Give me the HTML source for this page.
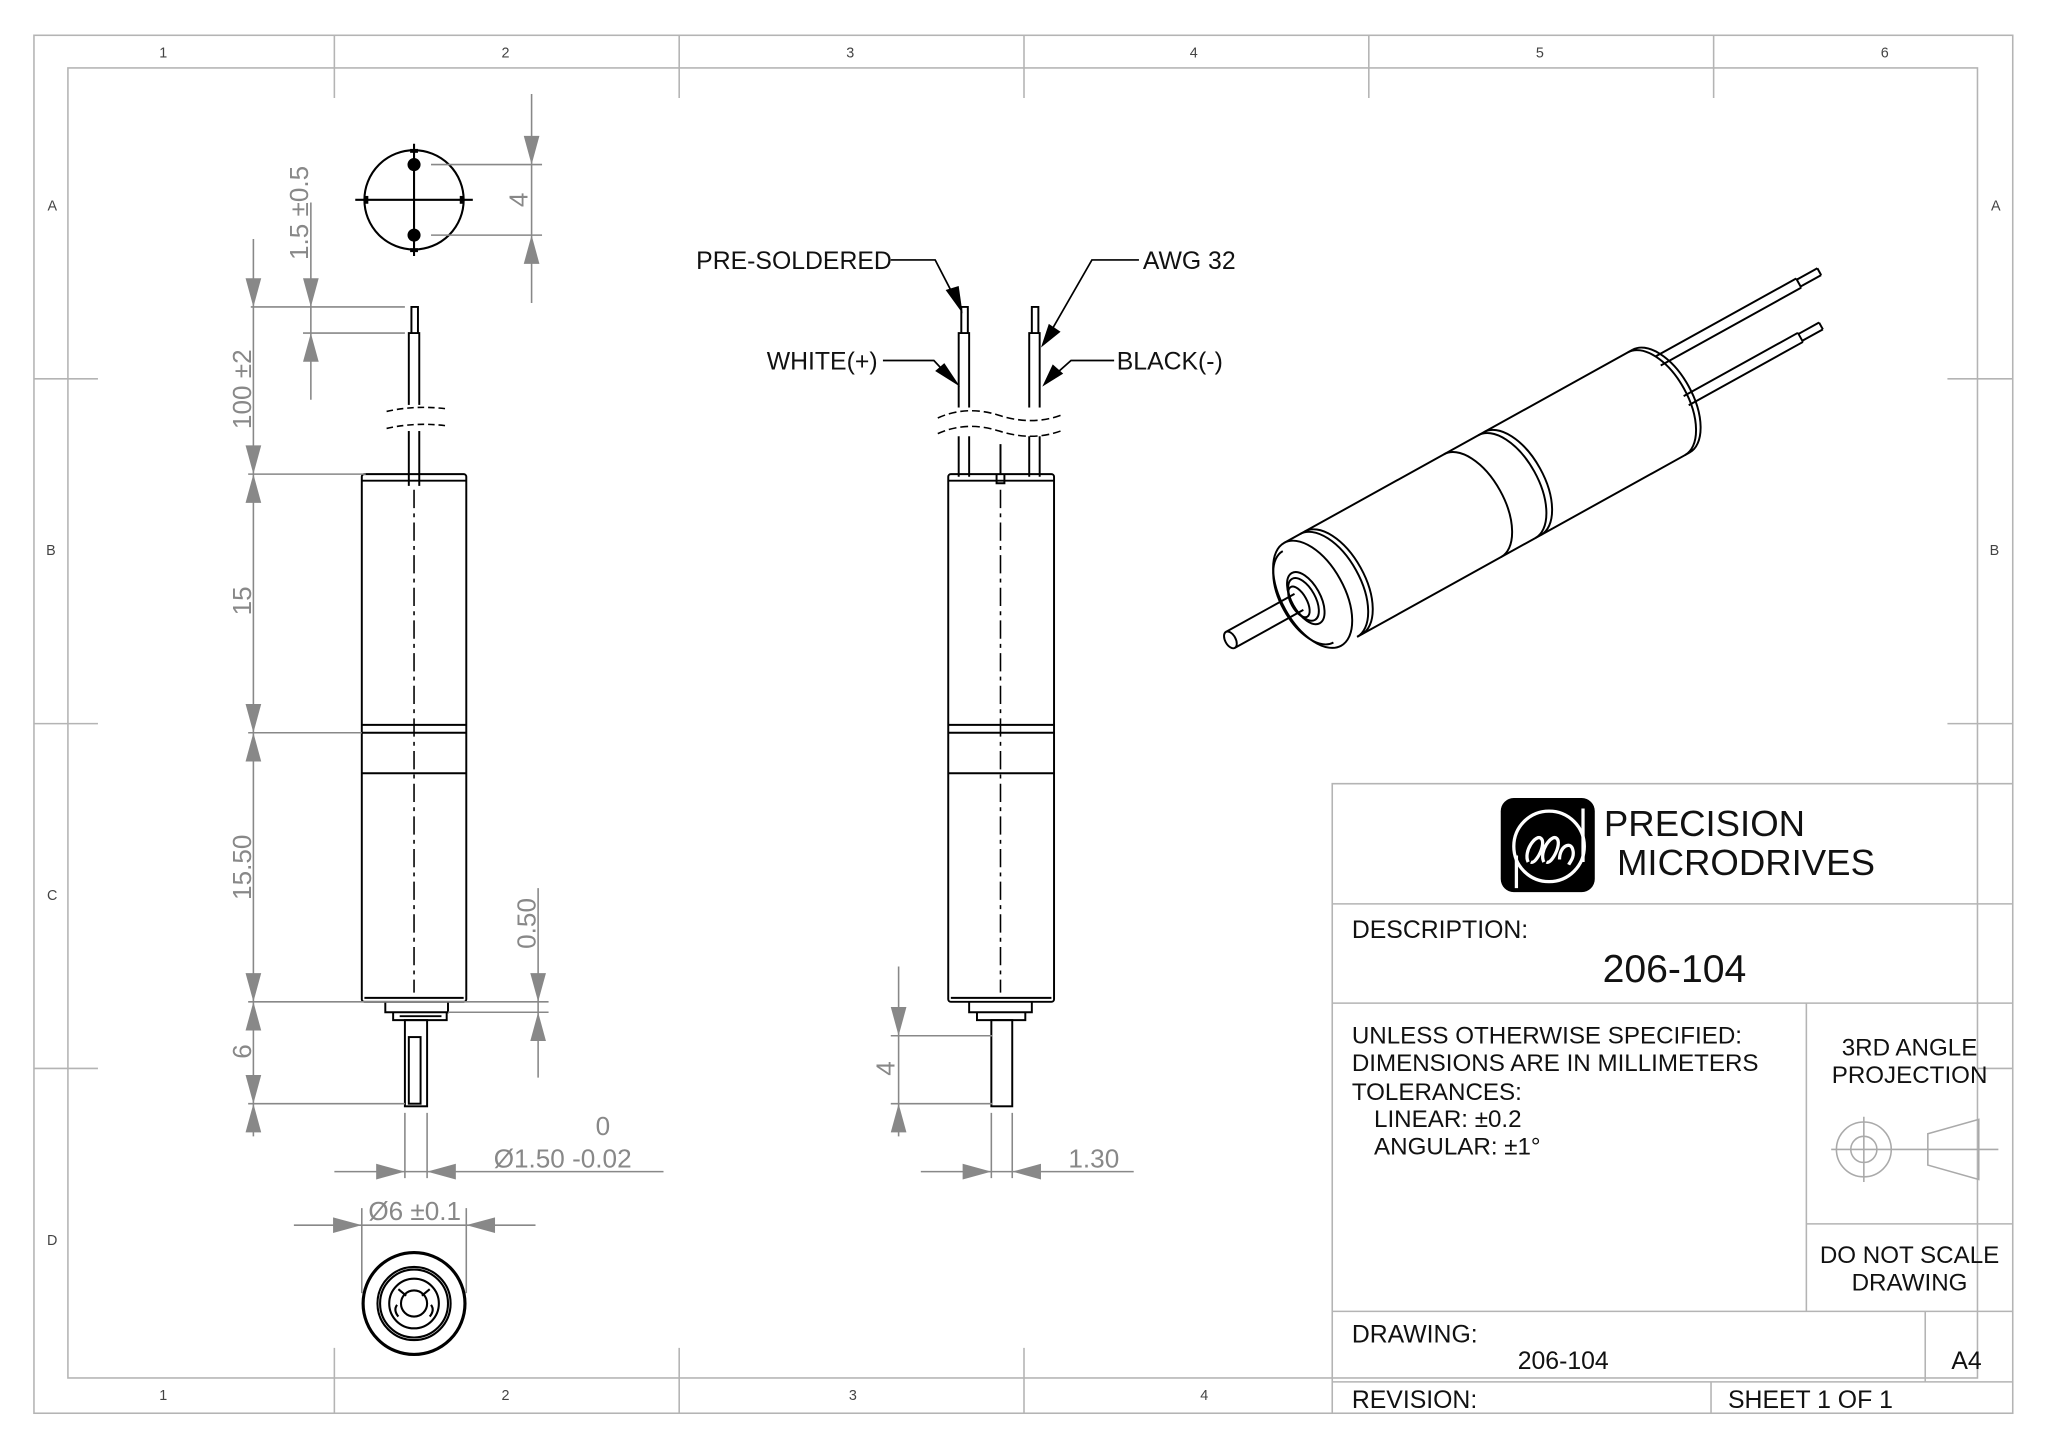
<!DOCTYPE html>
<html><head><meta charset="utf-8"><style>
html,body{margin:0;padding:0;background:#fff}
svg{display:block}
text{font-family:"Liberation Sans",sans-serif}
</style></head><body>
<svg width="2048" height="1448" viewBox="0 0 1568 1108.6" xmlns="http://www.w3.org/2000/svg">
<rect width="1568" height="1108.6" fill="#fff"/>
<!-- frame -->
<g stroke="#b4b4b4" stroke-width="1.2" fill="none">
<rect x="26" y="27" width="1515" height="1055"/>
<rect x="52" y="52" width="1462" height="1003"/>
<path d="M256 27V52M520 27V52M784 27V52M1048 27V52M1312 27V52
M256 1055V1082M520 1055V1082M784 1055V1082
M26 290H52M26 554H52M26 818H52M1514 290H1541M1514 554H1541M1514 818H1541
M256 52V75M520 52V75M784 52V75M1048 52V75M1312 52V75
M256 1055V1032M520 1055V1032M784 1055V1032
M52 290H75M52 554H75M52 818H75M1514 290H1491M1514 554H1491"/>
</g>
<g font-size="11" fill="#444" text-anchor="middle">
<text x="125" y="44">1</text><text x="387" y="44">2</text><text x="651" y="44">3</text><text x="914" y="44">4</text><text x="1179" y="44">5</text><text x="1443" y="44">6</text>
<text x="125" y="1072">1</text><text x="387" y="1072">2</text><text x="653" y="1072">3</text><text x="922" y="1072">4</text>
<text x="40" y="161">A</text><text x="39" y="425">B</text><text x="40" y="689">C</text><text x="40" y="953">D</text>
<text x="1528" y="161">A</text><text x="1527" y="425">B</text>
</g>
<!-- title block -->
<g stroke="#b4b4b4" stroke-width="1.2" fill="none">
<path d="M1020 1082V600H1541M1020 692H1541M1020 768H1541M1383 768V1004M1383 937H1541M1020 1004H1541M1474 1004V1058M1020 1058H1541M1310 1058V1082"/>
</g>
<rect x="1149" y="611" width="72" height="72" rx="10" fill="#000"/>
<g stroke="#fff" stroke-width="2.5" fill="none">
<circle cx="1186" cy="648" r="27"/>
<path d="M1161 655V680M1212 619V660"/>
<path d="M1170 660c-4-8 6-22 10-18s-4 20-8 18M1182 660c-4-8 6-22 10-18s-4 20-8 18M1194 658c0-10 8-14 10-8s-2 10-3 12"/>
</g>
<g fill="#111">
<text x="1228" y="640" font-size="28">PRECISION</text>
<text x="1238" y="670" font-size="28">MICRODRIVES</text>
<text x="1035" y="718" font-size="19">DESCRIPTION:</text>
<text x="1282" y="752" font-size="30" text-anchor="middle">206-104</text>
<text x="1035" y="799" font-size="18.5">UNLESS OTHERWISE SPECIFIED:</text>
<text x="1035" y="820" font-size="18.5">DIMENSIONS ARE IN MILLIMETERS</text>
<text x="1035" y="842" font-size="18.5">TOLERANCES:</text>
<text x="1052" y="863" font-size="18.5">LINEAR: ±0.2</text>
<text x="1052" y="884" font-size="18.5">ANGULAR: ±1°</text>
<text x="1462" y="808" font-size="18.5" text-anchor="middle">3RD ANGLE</text>
<text x="1462" y="829" font-size="18.5" text-anchor="middle">PROJECTION</text>
<text x="1462" y="967" font-size="18.5" text-anchor="middle">DO NOT SCALE</text>
<text x="1462" y="988" font-size="18.5" text-anchor="middle">DRAWING</text>
<text x="1035" y="1028" font-size="19">DRAWING:</text>
<text x="1162" y="1048" font-size="19">206-104</text>
<text x="1494" y="1048" font-size="19">A4</text>
<text x="1035" y="1078" font-size="19">REVISION:</text>
<text x="1323" y="1078" font-size="19">SHEET 1 OF 1</text>
</g>
<g stroke="#aaa" stroke-width="1.2" fill="none">
<circle cx="1427" cy="880" r="21"/><circle cx="1427" cy="880" r="10"/>
<path d="M1402 880H1486M1427 855V905M1476 868L1515 857V903L1476 892Z M1470 880H1530" />
</g>
<!-- FRONT VIEW (left) -->
<g stroke="#000" stroke-width="1.6" fill="none">
<circle cx="317" cy="153" r="38"/>
<path d="M272 153H362M317 110V196"/>
</g>
<g fill="#000"><circle cx="317" cy="126" r="5"/><circle cx="317" cy="180" r="5"/>
<rect x="314" y="114" width="6" height="3"/><rect x="314" y="190" width="6" height="3"/><rect x="279" y="150" width="3" height="6"/><rect x="352" y="150" width="3" height="6"/></g>
<g stroke="#000" stroke-width="1.5" fill="none">
<rect x="277" y="363" width="80" height="404" rx="2"/>
<path d="M277 368H357M277 555H357M277 561H357M277 592H357M279 764H355"/>
<path d="M295 767V775H343V767M301 775V781H342V775M306 778H338"/>
<rect x="310" y="781" width="17" height="66"/>
<rect x="313" y="794" width="9" height="51"/>
<path d="M313 372V255H321V372M315 255V235H320V255"/>
</g>
<rect x="310" y="310" width="14" height="20" fill="#fff"/>
<g stroke="#000" stroke-width="1.2" fill="none" stroke-dasharray="5 3">
<path d="M296 315Q318 310 342 313M296 328Q318 323 342 326"/>
<path d="M317 375V760" stroke-dasharray="14 4 3 4"/>
<path d="M766 375V760" stroke-dasharray="14 4 3 4"/>
</g>
<!-- SIDE VIEW -->
<g stroke="#000" stroke-width="1.5" fill="none">
<rect x="726" y="363" width="81" height="404" rx="2"/>
<path d="M726 368H807M726 555H807M726 561H807M726 592H807M728 764H805"/>
<path d="M742 767V775H790V767M748 775V781H785V775"/>
<rect x="759" y="781" width="16" height="66"/>
<path d="M734 365V255H742V365M736 255V235H741V255M788 365V255H796V365M790 255V235H795V255M763 363V370H769V363M766 340V363"/>
</g>
<rect x="725" y="312" width="76" height="22" fill="#fff"/>
<g stroke="#000" stroke-width="1.2" fill="none" stroke-dasharray="6 3">
<path d="M718 320Q740 310 765 318T812 318M718 332Q740 322 765 330T812 330"/>
</g>
<!-- leaders -->
<g stroke="#000" stroke-width="1.3" fill="none">
<path d="M682 199H716L732 230M872 199H836L801 260M676 276H715L730 292M853 276H820L802 292"/>
</g>
<g fill="#000">
<path d="M737 240L724 222L734 219Z"/><path d="M797 266L803 248L812 254Z"/>
<path d="M735 296L716 284L723 278Z"/><path d="M798 296L806 279L814 286Z"/>
</g>
<g font-size="19" fill="#111">
<text x="533" y="206">PRE-SOLDERED</text><text x="875" y="206">AWG 32</text>
<text x="587" y="283">WHITE(+)</text><text x="855" y="283">BLACK(-)</text>
</g>
<!-- dimensions (grey) -->
<g stroke="#888" stroke-width="1.2" fill="none">
<path d="M407 72V232M330 126H415M330 180H415"/>
<path d="M238 155V306M192 235H310M232 255H310"/>
<path d="M194 183V870M190 363H280M190 561H277M190 767H420M190 845H310M343 775H420"/>
<path d="M412 680V825"/>
<path d="M310 852V902M327 852V902M256 897H508"/>
<path d="M277 925V990M357 925V990M225 938H410"/>
<path d="M688 740V870M682 793H760M682 845H760"/>
<path d="M759 852V902M775 852V902M705 897H868"/>
</g>
<g fill="#888">
<path d="M407 126L401 104H413Z"/><path d="M407 180L401 202H413Z"/>
<path d="M238 235L232 213H244Z"/><path d="M238 255L232 277H244Z"/>
<path d="M194 235L188 213H200Z"/><path d="M194 363L188 385H200Z"/><path d="M194 363L188 341H200Z"/>
<path d="M194 561L188 539H200Z"/><path d="M194 561L188 583H200Z"/><path d="M194 767L188 745H200Z"/><path d="M194 767L188 789H200Z"/>
<path d="M194 845L188 823H200Z"/><path d="M194 845L188 867H200Z"/>
<path d="M412 767L406 745H418Z"/><path d="M412 775L406 797H418Z"/>
<path d="M310 897L288 891V903Z"/><path d="M327 897L349 891V903Z"/>
<path d="M277 938L255 932V944Z"/><path d="M357 938L379 932V944Z"/>
<path d="M688 793L682 771H694Z"/><path d="M688 845L682 867H694Z"/>
<path d="M759 897L737 891V903Z"/><path d="M775 897L797 891V903Z"/>
</g>
<g fill="#888" font-size="20">
<text transform="translate(404 153) rotate(-90)" text-anchor="middle">4</text>
<text transform="translate(236 163) rotate(-90)" text-anchor="middle">1.5 ±0.5</text>
<text transform="translate(192 298) rotate(-90)" text-anchor="middle">100 ±2</text>
<text transform="translate(192 460) rotate(-90)" text-anchor="middle">15</text>
<text transform="translate(192 664) rotate(-90)" text-anchor="middle">15.50</text>
<text transform="translate(192 805) rotate(-90)" text-anchor="middle">6</text>
<text transform="translate(410 707) rotate(-90)" text-anchor="middle">0.50</text>
<text transform="translate(685 818) rotate(-90)" text-anchor="middle">4</text>
<text x="456" y="869">0</text>
<text x="378" y="894">Ø1.50 -0.02</text>
<text x="282" y="934">Ø6 ±0.1</text>
<text x="818" y="894">1.30</text>
</g>
<!-- bottom end view -->
<g stroke="#000" stroke-width="1.6" fill="none">
<circle cx="317" cy="998" r="39" stroke-width="2.4"/>
<circle cx="317" cy="998" r="28"/><circle cx="317" cy="998" r="26"/>
<circle cx="317" cy="998" r="19"/>
<circle cx="317" cy="998" r="10"/>
<path d="M305 987L311 992M329 987L323 992M305 1008Q301 1003 304 999M329 1008Q333 1003 330 999"/>
</g>
<!-- isometric -->
<g transform="translate(1005 455) rotate(-29)" stroke="#000" stroke-width="1.5" fill="none">
<path d="M0 -45H305M14 45H305"/>
<path d="M0 -45A24 45 0 0 0 0 45A24 45 0 0 0 0 -45Z" fill="#fff"/>
<path d="M-4 -40A21 40 0 0 0 -4 40"/>
<path d="M14 -45A24 45 0 0 1 14 45M18 -45A24 45 0 0 1 18 45"/>
<path d="M140 -45A24 45 0 0 1 140 45M170 -45A24 45 0 0 1 170 45M175 -45A24 45 0 0 1 175 45"/>
<path d="M305 -45A24 45 0 0 1 305 45M301 -45A24 45 0 0 1 301 45"/>
<ellipse cx="-6" cy="0" rx="11" ry="22"/><ellipse cx="-8" cy="0" rx="9" ry="18"/>
<ellipse cx="-12" cy="0" rx="6" ry="13"/>
<path d="M-12 -7H-72M-12 7H-72"/>
<ellipse cx="-72" cy="0" rx="4" ry="7" fill="#fff"/>
<path d="M318 -32H441M318 -24H441M441 -32V-24M441 -31H459M441 -25H459M459 -31V-25"/>
<path d="M322 5H422M322 13H422M422 5V13M422 6H440M422 12H440M440 6V12"/>
</g>
</svg>
</body></html>
